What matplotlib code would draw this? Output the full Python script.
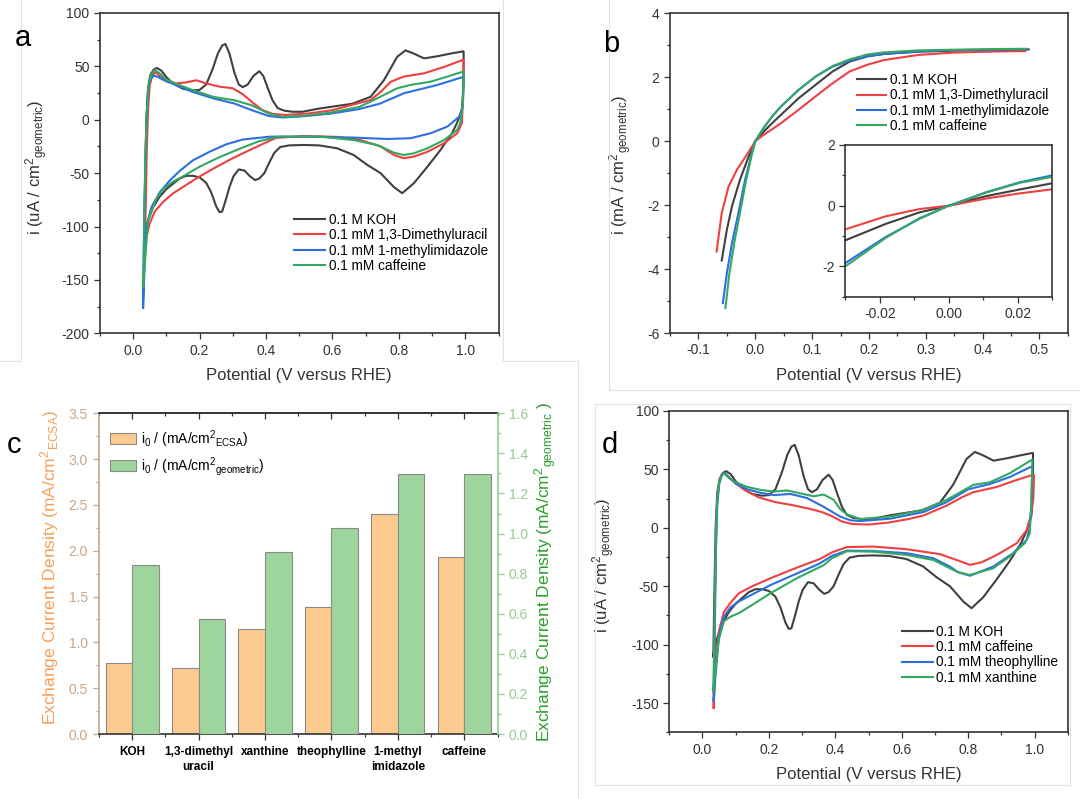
import numpy as np
import matplotlib
matplotlib.use("Agg")
import matplotlib.pyplot as plt
from matplotlib.ticker import MultipleLocator, FormatStrFormatter
from matplotlib.lines import Line2D

W, H = 1080, 799

plt.rcParams['font.family'] = ['Liberation Sans', 'DejaVu Sans']
plt.rcParams['mathtext.fontset'] = 'custom'
plt.rcParams['mathtext.rm'] = 'Liberation Sans'
plt.rcParams['mathtext.it'] = 'Liberation Sans:italic'
plt.rcParams['mathtext.bf'] = 'Liberation Sans:bold'
plt.rcParams['axes.unicode_minus'] = False

# ---------------- data ----------------
# 0.1 M KOH cyclic voltammogram (same curve in panels a and d)
koh_up_v = [0.033, 0.036, 0.040, 0.045, 0.052, 0.062, 0.072, 0.085, 0.10, 0.12,
            0.15, 0.18, 0.20, 0.22, 0.24, 0.255, 0.268, 0.278, 0.29, 0.305,
            0.318, 0.33, 0.345, 0.362, 0.38, 0.392, 0.405, 0.42, 0.435, 0.455,
            0.48, 0.51, 0.56, 0.66, 0.715, 0.755, 0.795, 0.82, 0.845, 0.876,
            0.916, 0.956, 0.992]
koh_up_i = [-110, -60, 0, 30, 42, 47, 48.5, 46, 40, 34,
            29, 27.5, 28, 33, 48, 62, 69.5, 71, 62, 44,
            33, 30.5, 33, 41, 45.5, 41, 30, 18, 11, 8.5,
            7.5, 7.5, 10.5, 15, 21.5, 37, 59, 65, 62, 57.5,
            59.5, 62, 64]
koh_dn_v = [0.995, 0.995, 0.99, 0.975, 0.96, 0.926, 0.886, 0.845, 0.81, 0.785,
            0.745, 0.705, 0.664, 0.614, 0.56, 0.513, 0.47, 0.443, 0.425, 0.41,
            0.395, 0.38, 0.367, 0.352, 0.335, 0.318, 0.302, 0.29, 0.28, 0.268,
            0.26, 0.25, 0.235, 0.22, 0.20, 0.18, 0.16, 0.14, 0.12, 0.10,
            0.08, 0.06, 0.045, 0.036, 0.033]
koh_dn_i = [64, 35, 10, -3, -12.6, -28, -44, -59.5, -68.8, -63,
            -50, -42.3, -33, -26.7, -24, -23.6, -24, -25.5, -31, -40,
            -50, -55, -56.5, -53, -47.5, -46.5, -53, -63, -74, -86,
            -86.5, -81, -68, -59, -54, -52.5, -52.5, -55, -60, -65,
            -72, -82, -94, -105, -110]

# panel a: 0.1 mM 1,3-dimethyluracil
dmu_up_v = [0.034, 0.038, 0.041, 0.045, 0.050, 0.058, 0.068, 0.08, 0.10, 0.13,
            0.16, 0.19, 0.22, 0.26, 0.30, 0.33, 0.36, 0.39, 0.42, 0.46,
            0.53, 0.60, 0.66, 0.715, 0.745, 0.775, 0.815, 0.876, 0.936, 0.992]
dmu_up_i = [-128, -80, -30, 10, 32, 42, 44.5, 41, 37, 34,
            35, 37, 34, 31, 29.5, 24, 16, 9, 5.5, 4.5,
            6, 9, 14, 18.5, 26, 35.5, 40.5, 43.5, 49.5, 56]
dmu_dn_v = [0.995, 0.993, 0.99, 0.976, 0.936, 0.886, 0.845, 0.815, 0.785, 0.745,
            0.684, 0.614, 0.513, 0.43, 0.36, 0.30, 0.24, 0.19, 0.15, 0.12,
            0.09, 0.065, 0.05, 0.04, 0.034]
dmu_dn_i = [56, 20, -3, -12.6, -22, -30, -34.5, -36, -33, -25,
            -19, -16, -15.2, -17, -27, -36, -46, -55, -63, -69,
            -77, -86, -97, -110, -128]

# panel a: 0.1 mM 1-methylimidazole
mim_up_v = [0.030, 0.033, 0.036, 0.040, 0.045, 0.052, 0.062, 0.075, 0.10, 0.118,
            0.18, 0.242, 0.305, 0.357, 0.409, 0.45, 0.513, 0.596, 0.68, 0.742,
            0.815, 0.916, 0.992]
mim_up_i = [-176, -110, -50, 0, 28, 38, 41.5, 40, 36, 33.9,
            26, 20, 15.2, 9, 3.5, 2.1, 3.3, 5.8, 10, 15,
            24.8, 32.6, 40]
mim_dn_v = [0.995, 0.993, 0.985, 0.976, 0.946, 0.896, 0.835, 0.765, 0.664, 0.513,
            0.413, 0.33, 0.28, 0.23, 0.18, 0.14, 0.11, 0.08, 0.055, 0.04,
            0.034, 0.030]
mim_dn_i = [40, 15, 4, 1.4, -6.4, -12.6, -17.3, -18, -16.7, -15.8,
            -15.8, -18.5, -23, -30, -38, -48, -57, -68, -82, -100,
            -140, -176]

# panel a: 0.1 mM caffeine
caf_up_v = [0.030, 0.033, 0.036, 0.040, 0.046, 0.054, 0.065, 0.078, 0.10, 0.118,
            0.18, 0.242, 0.305, 0.357, 0.409, 0.45, 0.513, 0.596, 0.68, 0.715,
            0.795, 0.835, 0.896, 0.946, 0.992]
caf_up_i = [-156, -100, -50, 0, 30, 42, 46.5, 44, 38, 35,
            27.7, 21.4, 18.3, 13.6, 5.8, 2.7, 3.7, 6.8, 12, 17,
            29.5, 32.6, 35.7, 40.4, 45]
caf_dn_v = [0.995, 0.993, 0.985, 0.976, 0.936, 0.886, 0.845, 0.815, 0.785, 0.735,
            0.664, 0.564, 0.44, 0.38, 0.33, 0.26, 0.20, 0.15, 0.12, 0.09,
            0.07, 0.045, 0.033, 0.030]
caf_dn_i = [45, 15, -3, -9.5, -19, -26.7, -31.4, -33, -30.8, -23.6,
            -19, -15.8, -15.8, -20, -26, -35, -44, -53, -58, -65,
            -74, -94, -144, -156]

# panel d: caffeine (red)
dcaf_up_v = [0.034, 0.037, 0.040, 0.044, 0.050, 0.058, 0.066, 0.08, 0.10, 0.13,
             0.17, 0.22, 0.27, 0.32, 0.36, 0.39, 0.42, 0.45, 0.50, 0.56,
             0.62, 0.665, 0.735, 0.78, 0.815, 0.886, 0.946, 0.994]
dcaf_up_i = [-154, -80, -20, 20, 38, 45.5, 47, 43, 38, 32,
             26, 22, 19.5, 16.5, 13.5, 10, 5.5, 3.3, 2.8, 4.5,
             7.5, 10.5, 19, 26, 30.5, 35, 41, 45.3]
dcaf_dn_v = [0.998, 0.996, 0.99, 0.976, 0.946, 0.886, 0.840, 0.805, 0.77, 0.715,
             0.615, 0.515, 0.435, 0.39, 0.355, 0.285, 0.215, 0.15, 0.11, 0.085,
             0.065, 0.05, 0.04, 0.034]
dcaf_dn_i = [45.3, 25, 12, -2, -13.2, -23.2, -29.5, -31.7, -28, -22.5,
             -18.3, -16, -16.5, -21, -26.5, -34, -42, -50, -56, -64,
             -72, -88, -115, -154]

# panel d: theophylline (blue)
theo_up_v = [0.034, 0.038, 0.041, 0.045, 0.051, 0.059, 0.067, 0.08, 0.10, 0.135,
             0.175, 0.215, 0.265, 0.315, 0.365, 0.415, 0.445, 0.475, 0.565, 0.665,
             0.735, 0.80, 0.865, 0.925, 0.99]
theo_up_i = [-148, -80, -20, 20, 38, 45.5, 47, 43.5, 38, 33,
             30, 28, 29, 25.5, 18, 9.6, 6.5, 5.8, 7.8, 13.5,
             22, 33, 37.5, 43.5, 52.4]
theo_dn_v = [0.993, 0.99, 0.985, 0.976, 0.935, 0.875, 0.805, 0.77, 0.745, 0.695,
             0.615, 0.515, 0.435, 0.39, 0.35, 0.285, 0.205, 0.15, 0.11, 0.085,
             0.065, 0.05, 0.04, 0.034]
theo_dn_i = [52.4, 20, 0, -10.4, -21.7, -33.2, -41, -38, -33.2, -26,
             -21.7, -19.8, -19.5, -24, -31, -39, -49, -57, -63, -68,
             -76, -92, -125, -148]

# panel d: xanthine (green)
xan_up_v = [0.033, 0.037, 0.040, 0.044, 0.050, 0.058, 0.066, 0.08, 0.10, 0.135,
            0.175, 0.215, 0.255, 0.295, 0.335, 0.365, 0.395, 0.415, 0.435, 0.475,
            0.565, 0.665, 0.735, 0.815, 0.865, 0.925, 0.99]
xan_up_i = [-140, -80, -20, 20, 38, 45, 46.5, 43, 39, 35,
            32.5, 31, 32, 29.5, 27, 28.5, 24, 16, 11.5, 7.6,
            9.6, 15.3, 23.9, 36.7, 39, 46.7, 58]
xan_dn_v = [0.993, 0.99, 0.985, 0.97, 0.925, 0.875, 0.805, 0.77, 0.745, 0.695,
            0.615, 0.515, 0.435, 0.39, 0.365, 0.285, 0.205, 0.15, 0.11, 0.085,
            0.065, 0.05, 0.04, 0.033]
xan_dn_i = [58, 20, -5, -13.2, -24.6, -34.6, -40.3, -38, -34.6, -27.5,
            -23.2, -20.4, -20, -26, -32, -43, -56, -66, -73, -76,
            -80, -95, -120, -140]

# panel b: polarisation curves (mA/cm2)
b_koh_v = [-0.059, -0.05, -0.041, -0.027, -0.012, 0.0, 0.015, 0.03, 0.045, 0.076,
           0.106, 0.136, 0.166, 0.197, 0.227, 0.288, 0.348, 0.409, 0.481]
b_koh_i = [-3.73, -2.77, -2.04, -1.21, -0.5, 0.0, 0.3, 0.57, 0.82, 1.34,
           1.76, 2.18, 2.49, 2.65, 2.73, 2.8, 2.83, 2.85, 2.87]
b_dmu_v = [-0.068, -0.059, -0.047, -0.0325, -0.015, 0.0, 0.015, 0.03, 0.045, 0.076,
           0.106, 0.136, 0.166, 0.197, 0.227, 0.288, 0.348, 0.409, 0.475]
b_dmu_i = [-3.45, -2.25, -1.42, -0.9, -0.43, 0.0, 0.2, 0.38, 0.56, 0.98,
           1.4, 1.81, 2.18, 2.39, 2.54, 2.7, 2.77, 2.8, 2.82]
b_mim_v = [-0.057, -0.05, -0.041, -0.0297, -0.018, -0.006, 0.0, 0.015, 0.03, 0.045,
           0.076, 0.106, 0.136, 0.166, 0.197, 0.227, 0.288, 0.348, 0.409, 0.477]
b_mim_i = [-5.06, -4.13, -3.19, -2.25, -1.21, -0.38, 0.0, 0.42, 0.78, 1.08,
           1.6, 2.02, 2.33, 2.52, 2.66, 2.73, 2.81, 2.85, 2.86, 2.87]
b_caf_v = [-0.0525, -0.0455, -0.037, -0.027, -0.016, -0.0056, 0.0, 0.015, 0.03, 0.045,
           0.076, 0.106, 0.136, 0.166, 0.197, 0.227, 0.288, 0.348, 0.409, 0.477]
b_caf_i = [-5.22, -4.13, -3.19, -2.25, -1.21, -0.38, 0.0, 0.42, 0.78, 1.08,
           1.6, 2.02, 2.35, 2.56, 2.71, 2.78, 2.84, 2.86, 2.88, 2.89]

# panel b inset
ins_v = [-0.030, -0.0183, -0.0085, 0.0, 0.011, 0.0208, 0.030]
ins_koh = [-1.14, -0.6, -0.22, 0.0, 0.32, 0.54, 0.74]
ins_dmu = [-0.78, -0.35, -0.11, 0.0, 0.24, 0.41, 0.54]
ins_mim = [-1.89, -1.03, -0.43, 0.0, 0.45, 0.78, 1.0]
ins_caf = [-2.0, -1.06, -0.41, 0.0, 0.44, 0.76, 0.95]

# panel c: exchange current densities
c_names = ['KOH', '1,3-dimethyl\nuracil', 'xanthine', 'theophylline',
           '1-methyl\nimidazole', 'caffeine']
c_ecsa = [0.78, 0.72, 1.15, 1.39, 2.40, 1.93]
c_geo = [0.845, 0.574, 0.906, 1.028, 1.296, 1.296]

# ---------------- styling ----------------
K = '#404040'
R = '#ef4040'
B = '#2d6fe0'
G = '#33a862'
AXC = '#333333'
ORANGE = '#fdcb90'
GBAR = '#9dd59c'
EDGE = '#8a8a8a'
LW = 1.5

fig = plt.figure(figsize=(10.8, 7.99), dpi=100)


def box(left, top, right, bottom):
    return [left / W, 1 - bottom / H, (right - left) / W, (bottom - top) / H]


def fig_line(xs, ys):
    fig.add_artist(Line2D([x / W for x in xs], [1 - y / H for y in ys],
                          color='#e2e2e2', lw=0.8))


def frame(ax):
    for s in ax.spines.values():
        s.set_linewidth(1.2)
        s.set_color(AXC)
    ax.tick_params(which='both', direction='out', top=False, right=False,
                   color=AXC, labelcolor=AXC, width=0.9, labelsize=10, pad=3)
    ax.tick_params(which='major', length=4.5)
    ax.tick_params(which='minor', length=2.5)


def cv_axes(ax, ylim, ylab):
    frame(ax)
    ax.set_xlim(-0.1, 1.1)
    ax.set_ylim(*ylim)
    ax.xaxis.set_major_locator(MultipleLocator(0.2))
    ax.xaxis.set_minor_locator(MultipleLocator(0.1))
    ax.xaxis.set_major_formatter(FormatStrFormatter('%.1f'))
    ax.yaxis.set_major_locator(MultipleLocator(50))
    ax.yaxis.set_minor_locator(MultipleLocator(25))
    ax.yaxis.set_major_formatter(FormatStrFormatter('%d'))
    ax.set_xlabel('Potential (V versus RHE)', fontsize=12, color=AXC)
    ax.set_ylabel(ylab, fontsize=12, color=AXC)


def loop(up_v, dn_v, up_i, dn_i):
    return np.r_[up_v, dn_v], np.r_[up_i, dn_i]


ua_lab = r'i (uA / cm$^2$$_{\mathrm{geometric}}$)'

# ---- panel a ----
ax_a = fig.add_axes(box(99.9, 13.0, 498.5, 333.3))
for uv, dv, ui, di, col, lab in [
        (koh_up_v, koh_dn_v, koh_up_i, koh_dn_i, K, '0.1 M KOH'),
        (dmu_up_v, dmu_dn_v, dmu_up_i, dmu_dn_i, R, '0.1 mM 1,3-Dimethyluracil'),
        (mim_up_v, mim_dn_v, mim_up_i, mim_dn_i, B, '0.1 mM 1-methylimidazole'),
        (caf_up_v, caf_dn_v, caf_up_i, caf_dn_i, G, '0.1 mM caffeine')]:
    v, i = loop(uv, dv, ui, di)
    ax_a.plot(v, i, color=col, lw=LW, label=lab)
cv_axes(ax_a, (-200, 100), ua_lab)
ax_a.yaxis.set_label_coords(-0.125, 0.52)
ax_a.xaxis.set_label_coords(0.5, -0.108)
ax_a.legend(loc='upper left', bbox_to_anchor=(0.488, 0.376), frameon=False,
            fontsize=9.8, handlelength=2.28, handletextpad=0.25,
            labelspacing=0.1, borderpad=0, borderaxespad=0)

# ---- panel b ----
ax_b = fig.add_axes(box(670.0, 13.3, 1067.9, 333.0))
for v, i, col, lab in [(b_koh_v, b_koh_i, K, '0.1 M KOH'),
                       (b_dmu_v, b_dmu_i, R, '0.1 mM 1,3-Dimethyluracil'),
                       (b_mim_v, b_mim_i, B, '0.1 mM 1-methylimidazole'),
                       (b_caf_v, b_caf_i, G, '0.1 mM caffeine')]:
    ax_b.plot(v, i, color=col, lw=LW, label=lab)
frame(ax_b)
ax_b.set_xlim(-0.15, 0.55)
ax_b.set_ylim(-6, 4)
ax_b.xaxis.set_major_locator(MultipleLocator(0.1))
ax_b.xaxis.set_minor_locator(MultipleLocator(0.05))
ax_b.xaxis.set_major_formatter(FormatStrFormatter('%.1f'))
ax_b.yaxis.set_major_locator(MultipleLocator(2))
ax_b.yaxis.set_minor_locator(MultipleLocator(1))
ax_b.yaxis.set_major_formatter(FormatStrFormatter('%d'))
ax_b.set_xlabel('Potential (V versus RHE)', fontsize=12, color=AXC)
ax_b.set_ylabel(r'i (mA / cm$^2$$_{\mathrm{geometric}}$)', fontsize=12, color=AXC)
ax_b.yaxis.set_label_coords(-0.090, 0.525)
ax_b.xaxis.set_label_coords(0.5, -0.109)
ax_b.legend(loc='upper left', bbox_to_anchor=(0.469, 0.813), frameon=False,
            fontsize=9.8, handlelength=2.13, handletextpad=0.3,
            labelspacing=0.1, borderpad=0, borderaxespad=0)

ax_in = fig.add_axes(box(845.4, 145.0, 1052.4, 296.7))
for vals, col in [(ins_koh, K), (ins_dmu, R), (ins_mim, B), (ins_caf, G)]:
    ax_in.plot(ins_v, vals, color=col, lw=LW)
frame(ax_in)
ax_in.set_xlim(-0.03, 0.03)
ax_in.set_ylim(-3, 2)
ax_in.xaxis.set_major_locator(MultipleLocator(0.02))
ax_in.xaxis.set_minor_locator(MultipleLocator(0.01))
ax_in.xaxis.set_major_formatter(FormatStrFormatter('%.2f'))
ax_in.yaxis.set_major_locator(MultipleLocator(2))
ax_in.yaxis.set_minor_locator(MultipleLocator(1))
ax_in.yaxis.set_major_formatter(FormatStrFormatter('%d'))

# ---- panel c ----
TAN = '#c9a589'
OTXT = '#f5a05a'
LGRN = '#92cc92'
GTXT = '#2ca02c'
ax_c = fig.add_axes(box(98.9, 413.3, 497.5, 734.0))
ax_c2 = ax_c.twinx()
x = np.arange(1, len(c_names) + 1)
h1 = ax_c.bar(x - 0.2, c_ecsa, width=0.4, color=ORANGE, edgecolor=EDGE, linewidth=0.8)
h2 = ax_c2.bar(x + 0.2, c_geo, width=0.4, color=GBAR, edgecolor=EDGE, linewidth=0.8)
ax_c.set_xlim(0.5, 6.5)
ax_c.set_ylim(0, 3.5)
ax_c2.set_ylim(0, 1.6)
for s in ax_c.spines.values():
    s.set_linewidth(1.2)
    s.set_color(AXC)
ax_c.spines['left'].set_color(TAN)
ax_c.spines['right'].set_visible(False)
for name in ['left', 'top', 'bottom']:
    ax_c2.spines[name].set_visible(False)
ax_c2.spines['right'].set_color(LGRN)
ax_c2.spines['right'].set_linewidth(1.2)

ax_c.set_xticks(x)
ax_c.set_xticklabels(c_names, fontsize=8.5, fontweight='bold', linespacing=1.4)
ax_c.set_xticks(np.arange(0.5, 7.0, 1.0), minor=True)
ax_c.tick_params(axis='x', which='both', direction='out', color=AXC,
                 labelcolor='black', width=0.9, pad=4)
ax_c.tick_params(axis='x', which='major', length=4.5)
ax_c.tick_params(axis='x', which='minor', length=2.5)
top = ax_c.secondary_xaxis('top')
top.set_xticks(x)
top.set_xticks(np.arange(0.5, 7.0, 1.0), minor=True)
top.tick_params(which='both', direction='in', labeltop=False, color=AXC, width=0.9)
top.tick_params(which='major', length=4.5)
top.tick_params(which='minor', length=2.5)
top.spines['top'].set_linewidth(1.2)
top.spines['top'].set_color(AXC)

ax_c.yaxis.set_major_locator(MultipleLocator(0.5))
ax_c.yaxis.set_minor_locator(MultipleLocator(0.25))
ax_c.yaxis.set_major_formatter(FormatStrFormatter('%.1f'))
ax_c.tick_params(axis='y', which='both', direction='out', color=TAN,
                 labelcolor=TAN, width=0.9, labelsize=10)
ax_c.tick_params(axis='y', which='major', length=4.5)
ax_c.tick_params(axis='y', which='minor', length=2.5)
ax_c2.yaxis.set_major_locator(MultipleLocator(0.2))
ax_c2.yaxis.set_minor_locator(MultipleLocator(0.1))
ax_c2.yaxis.set_major_formatter(FormatStrFormatter('%.1f'))
ax_c2.tick_params(axis='y', which='both', direction='out', color=LGRN,
                  labelcolor=LGRN, width=0.9, labelsize=10)
ax_c2.tick_params(axis='y', which='major', length=4.5)
ax_c2.tick_params(axis='y', which='minor', length=2.5)

ax_c.set_ylabel(r'Exchange Current Density (mA/cm$^2$$_{\mathrm{ECSA}}$)',
                fontsize=12.5, color=OTXT)
ax_c.yaxis.set_label_coords(-0.096, 0.52)
ax_c2.set_ylabel(r'Exchange Current Density (mA/cm$^2$$_{\mathrm{geometric}}$ )',
                 fontsize=12.5, color=GTXT)
ax_c2.yaxis.set_label_coords(1.089, 0.505)
ax_c2.legend([h1, h2], [r'i$_0$ / (mA/cm$^2$$_{\mathrm{ECSA}}$)',
                        r'i$_0$ / (mA/cm$^2$$_{\mathrm{geometric}}$)'],
             loc='upper left', bbox_to_anchor=(0.028, 0.954), frameon=False,
             fontsize=10, handlelength=1.9, handleheight=0.86,
             handletextpad=0.3, labelspacing=0.4, borderpad=0, borderaxespad=0)

# ---- panel d ----
ax_d = fig.add_axes(box(669.1, 411.0, 1067.9, 732.3))
for uv, dv, ui, di, col, lab in [
        (koh_up_v, koh_dn_v, koh_up_i, koh_dn_i, K, '0.1 M KOH'),
        (dcaf_up_v, dcaf_dn_v, dcaf_up_i, dcaf_dn_i, R, '0.1 mM caffeine'),
        (theo_up_v, theo_dn_v, theo_up_i, theo_dn_i, B, '0.1 mM theophylline'),
        (xan_up_v, xan_dn_v, xan_up_i, xan_dn_i, G, '0.1 mM xanthine')]:
    v, i = loop(uv, dv, ui, di)
    ax_d.plot(v, i, color=col, lw=LW, label=lab)
cv_axes(ax_d, (-175, 100), ua_lab)
ax_d.yaxis.set_label_coords(-0.131, 0.52)
ax_d.xaxis.set_label_coords(0.5, -0.107)
ax_d.legend(loc='upper left', bbox_to_anchor=(0.583, 0.335), frameon=False,
            fontsize=9.8, handlelength=2.28, handletextpad=0.25,
            labelspacing=0.1, borderpad=0, borderaxespad=0)

# panel letters
for lx, ly, letter in [(14.5, 45.7, 'a'), (602.7, 51.7, 'b'),
                       (6.4, 453.3, 'c'), (602.0, 453.3, 'd')]:
    fig.text(lx / W, 1 - ly / H, letter, fontsize=21, ha='left', va='baseline')

# faint panel borders of the original screenshot
fig_line([20.7, 20.7, 0], [0, 360.7, 360.7])
fig_line([502.8, 502.8, 578, 578], [0, 360.7, 360.7, 799])
fig_line([608.9, 608.9, 1080], [0, 390, 390])
fig_line([595, 1070, 1070, 595, 595], [404, 404, 785, 785, 404])

fig.savefig('out.png', dpi=100)
